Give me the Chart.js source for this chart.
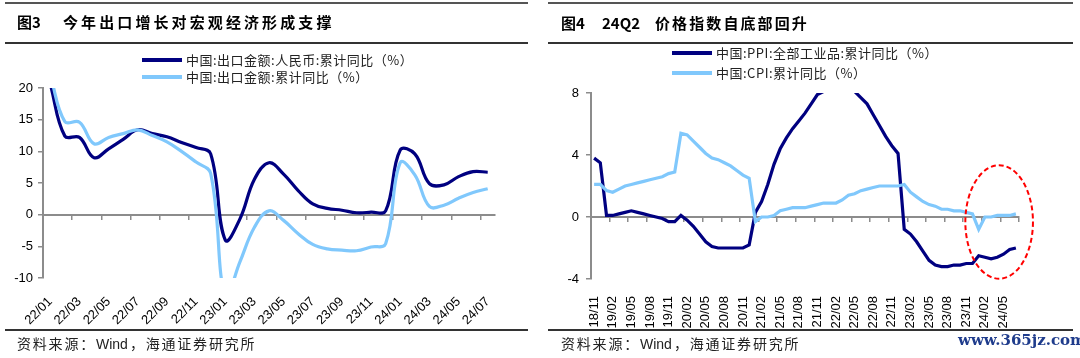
<!DOCTYPE html>
<html><head><meta charset="utf-8">
<script src="https://cdn.jsdelivr.net/npm/chart.js@4.4.1/dist/chart.umd.min.js"></script>
<style>
html,body{margin:0;padding:0;background:#fff;}
body{width:1080px;height:358px;position:relative;overflow:hidden;font-family:"Noto Sans CJK SC","Noto Sans",sans-serif;}
.a{position:absolute;white-space:nowrap;line-height:1;}
.title{font-weight:bold;font-size:15px;color:#000;}
.rule{position:absolute;height:2px;background:#333;}
.src{font-size:14px;color:#222;}
.src .cj{letter-spacing:1.8px;}
.src .la{font-family:'Liberation Sans',Arial,sans-serif;font-size:14px;margin-right:2px;}
.leg{font-size:13px;color:#222;letter-spacing:0.5px;}
.sw{position:absolute;height:4px;width:40px;}
canvas{position:absolute;top:0;}
</style></head>
<body>
<canvas id="c1" width="540" height="358" style="left:0;width:540px;height:358px"></canvas>
<canvas id="c2" width="540" height="358" style="left:540px;width:540px;height:358px"></canvas>

<div class="rule" style="left:5px;width:523px;top:2px;background:#555"></div>
<div class="rule" style="left:5px;width:523px;top:42px"></div>
<div class="rule" style="left:5px;width:523px;top:329px"></div>
<div class="rule" style="left:548px;width:525px;top:2px;background:#555"></div>
<div class="rule" style="left:548px;width:525px;top:42px"></div>
<div class="rule" style="left:548px;width:525px;top:329px"></div>

<div class="a title" style="left:17px;top:14px">图3</div>
<div class="a title" style="left:63px;top:14px;letter-spacing:3.1px">今年出口增长对宏观经济形成支撑</div>
<div class="a title" style="left:561px;top:15px">图4</div>
<div class="a title" style="left:602px;top:15px">24Q2</div>
<div class="a title" style="left:655px;top:15px;letter-spacing:2.1px">价格指数自底部回升</div>

<div class="sw" style="left:142px;top:58px;background:#000080"></div>
<div class="a leg" style="left:186px;top:53px">中国:出口金额:人民币:累计同比（%）</div>
<div class="sw" style="left:142px;top:75px;background:#80c8fc"></div>
<div class="a leg" style="left:186px;top:70px">中国:出口金额:累计同比（%）</div>

<div class="sw" style="left:672px;top:51px;background:#000080"></div>
<div class="a leg" style="left:716px;top:46px">中国:PPI:全部工业品:累计同比（%）</div>
<div class="sw" style="left:672px;top:71px;background:#80c8fc"></div>
<div class="a leg" style="left:716px;top:66px">中国:CPI:累计同比（%）</div>

<div class="a src" style="left:17px;top:336px"><span class="cj">资料来源：</span><span class="la">Wind</span><span class="cj">，海通证券研究所</span></div>
<div class="a src" style="left:561px;top:336px"><span class="cj">资料来源：</span><span class="la">Wind</span><span class="cj">，海通证券研究所</span></div>
<div class="a" style="left:958px;top:333px;font-family:'DejaVu Serif',serif;font-size:15px;font-weight:bold;color:#1f3c8c;">www.365jz.com</div>

<script>
// ---------- Figure 3 data ----------
const exportCats = ['22/01','22/02','22/03','22/04','22/05','22/06','22/07','22/08','22/09','22/10','22/11','22/12',
  '23/01','23/02','23/03','23/04','23/05','23/06','23/07','23/08','23/09','23/10','23/11','23/12',
  '24/01','24/02','24/03','24/04','24/05','24/06','24/07'];
const exportRmb = [20.6, 12.4, 12.2, 9.0, 10.4, 11.9, 13.4, 12.8, 12.3, 11.4, 10.6, 9.6,
  -4.0, -0.7, 5.6, 8.2, 6.4, 3.8, 1.7, 1.0, 0.7, 0.3, 0.4, 0.6,
  10.2, 9.6, 4.9, 4.7, 6.0, 6.8, 6.7];
const exportUsd = [22.0, 14.7, 14.6, 11.2, 12.2, 12.8, 13.4, 12.5, 11.5, 10.0, 8.3, 6.5,
  -13.0, -7.5, -2.0, 0.6, -0.9, -3.0, -4.7, -5.4, -5.6, -5.7, -5.1, -4.6,
  8.2, 6.3, 1.3, 1.5, 2.6, 3.5, 4.1];

// ---------- Figure 4 data ----------
const priceCats = ['18/11','18/12',
  '19/01','19/02','19/03','19/04','19/05','19/06','19/07','19/08','19/09','19/10','19/11','19/12',
  '20/01','20/02','20/03','20/04','20/05','20/06','20/07','20/08','20/09','20/10','20/11','20/12',
  '21/01','21/02','21/03','21/04','21/05','21/06','21/07','21/08','21/09','21/10','21/11','21/12',
  '22/01','22/02','22/03','22/04','22/05','22/06','22/07','22/08','22/09','22/10','22/11','22/12',
  '23/01','23/02','23/03','23/04','23/05','23/06','23/07','23/08','23/09','23/10','23/11','23/12',
  '24/01','24/02','24/03','24/04','24/05','24/06','24/07'];
const ppiCum = [3.8, 3.5,
  0.1, 0.1, 0.2, 0.3, 0.4, 0.3, 0.2, 0.1, 0.0, -0.1, -0.3, -0.3,
  0.1, -0.2, -0.6, -1.1, -1.6, -1.9, -2.0, -2.0, -2.0, -2.0, -2.0, -1.8,
  0.3, 1.0, 2.1, 3.4, 4.4, 5.1, 5.7, 6.2, 6.7, 7.3, 7.9, 8.1,
  9.1, 8.9, 8.7, 8.5, 8.1, 7.7, 7.3, 6.6, 5.9, 5.2, 4.6, 4.1,
  -0.8, -1.1, -1.6, -2.2, -2.8, -3.1, -3.2, -3.2, -3.1, -3.1, -3.0, -3.0,
  -2.5, -2.6, -2.7, -2.6, -2.4, -2.1, -2.0];
const cpiCum = [2.1, 2.1,
  1.7, 1.6, 1.8, 2.0, 2.1, 2.2, 2.3, 2.4, 2.5, 2.6, 2.8, 2.9,
  5.4, 5.3, 4.9, 4.5, 4.1, 3.8, 3.7, 3.5, 3.3, 3.0, 2.7, 2.5,
  -0.3, 0.0, 0.0, 0.1, 0.4, 0.5, 0.6, 0.6, 0.6, 0.7, 0.8, 0.9,
  0.9, 0.9, 1.1, 1.4, 1.5, 1.7, 1.8, 1.9, 2.0, 2.0, 2.0, 2.0,
  2.1, 1.6, 1.3, 1.0, 0.8, 0.7, 0.5, 0.5, 0.4, 0.4, 0.3, 0.2,
  -0.8, 0.0, 0.0, 0.1, 0.1, 0.1, 0.2];

// annotation ellipse (category index / value units)
const ringCenter = [65.3, -0.32];
const ringRadius = [5.45, 3.66];

const DARK = '#000080', LIGHT = '#80c8fc', AXIS = '#8c8c8c';
const tickFont = {family: "'Liberation Sans', Arial, sans-serif", size: 13};

function makeOptions(cfg){
  return {
    responsive: false, animation: false, maintainAspectRatio: false,
    layout: {padding: {left: 0, top: cfg.top, right: cfg.right, bottom: 0}},
    plugins: {legend: {display: false}, tooltip: {enabled: false}},
    scales: {
      x: {
        type: 'category', offset: true, position: 'bottom',
        grid: {display: false}, border: {display: false},
        ticks: {autoSkip: false, minRotation: cfg.rot, maxRotation: cfg.rot, padding: cfg.lpad,
          font: tickFont, color: '#000',
          callback: (v, i) => (i % cfg.every === 0 ? cfg.cats[i] : '')},
        afterFit: s => { s.height = cfg.xh; }
      },
      x0: {
        type: 'category', labels: cfg.cats, offset: true, position: {y: 0},
        grid: {offset: true, drawOnChartArea: false, drawTicks: true, tickLength: 4, lineWidth: 1.5,
          color: c => cfg.gridShow(c) ? AXIS : 'rgba(0,0,0,0)'},
        border: {display: true, color: AXIS, width: 2},
        ticks: {display: false}
      },
      y: {
        min: cfg.min, max: cfg.max,
        grid: {drawOnChartArea: false, drawTicks: true, tickLength: 5, color: AXIS, lineWidth: 1.5},
        border: {display: true, color: AXIS, width: 2},
        ticks: {stepSize: cfg.step, font: tickFont, color: '#000', padding: cfg.ypad},
        afterFit: s => { s.width = cfg.yw; }
      }
    }
  };
}

new Chart(document.getElementById('c1'), {
  type: 'line',
  data: {
    labels: exportCats,
    datasets: [
      {label: '中国:出口金额:人民币:累计同比（%）', data: exportRmb, borderColor: DARK, borderWidth: 3.2,
        pointRadius: 0, tension: 0.4, clip: 0, order: 2},
      {label: '中国:出口金额:累计同比（%）', data: exportUsd, borderColor: LIGHT, borderWidth: 3.2,
        pointRadius: 0, tension: 0.4, clip: 0, order: 1}
    ]
  },
  options: makeOptions({top: 88, right: 45, xh: 80, yw: 43, min: -10, max: 20, step: 5, rot: 45, every: 2,
    lpad: 8, ypad: 5, cats: exportCats,
    gridShow: c => c.index !== undefined && c.index % 2 === 0})
});

const ringPlugin = {
  id: 'ring',
  afterDatasetsDraw(chart){
    const xs = chart.scales.x, ys = chart.scales.y, ctx = chart.ctx;
    const cx = xs.getPixelForValue(ringCenter[0]);
    const cy = ys.getPixelForValue(ringCenter[1]);
    const rx = Math.abs(xs.getPixelForValue(ringCenter[0] + ringRadius[0]) - cx);
    const ry = Math.abs(ys.getPixelForValue(ringCenter[1] + ringRadius[1]) - cy);
    ctx.save();
    ctx.strokeStyle = '#ff0000'; ctx.lineWidth = 2; ctx.setLineDash([5, 3]);
    ctx.beginPath(); ctx.ellipse(cx, cy, rx, ry, 0, 0, Math.PI * 2); ctx.stroke();
    ctx.restore();
  }
};

new Chart(document.getElementById('c2'), {
  type: 'line',
  data: {
    labels: priceCats,
    datasets: [
      {label: '中国:PPI:全部工业品:累计同比（%）', data: ppiCum, borderColor: DARK, borderWidth: 3.2,
        pointRadius: 0, tension: 0, clip: 0, order: 2},
      {label: '中国:CPI:累计同比（%）', data: cpiCum, borderColor: LIGHT, borderWidth: 3.2,
        pointRadius: 0, tension: 0, clip: 0, order: 1}
    ]
  },
  options: makeOptions({top: 93, right: 61, xh: 79, yw: 51, min: -4, max: 8, step: 4, rot: 90, every: 3,
    lpad: 9, ypad: 7, cats: priceCats,
    gridShow: c => c.index === undefined || c.index % 3 === 0}),
  plugins: [ringPlugin]
});
</script>
</body></html>
